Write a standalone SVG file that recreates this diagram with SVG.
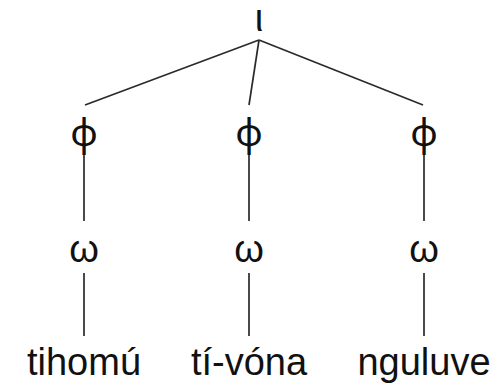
<svg xmlns="http://www.w3.org/2000/svg" width="497" height="385" viewBox="0 0 497 385">
  <style>
    .lbl { font-family: "Liberation Sans", Arial, sans-serif; font-size: 38px; fill: #111; text-anchor: middle; }
    .phi { font-family: "Noto Sans", sans-serif; font-size: 38px; }
    .edge { stroke: #2a2a2a; stroke-width: 1.7; fill: none; stroke-linecap: butt; }
  </style>
  <rect width="497" height="385" fill="#fff"/>
  <g id="connectors">
    <line class="edge" x1="259" y1="40" x2="85" y2="105"/>
    <line class="edge" x1="259" y1="40" x2="249" y2="105"/>
    <line class="edge" x1="259" y1="40" x2="423" y2="105"/>
    <line class="edge" x1="84" y1="155" x2="84" y2="221"/>
    <line class="edge" x1="249" y1="155" x2="249" y2="221"/>
    <line class="edge" x1="424" y1="155" x2="424" y2="221"/>
    <line class="edge" x1="84" y1="273" x2="84" y2="336"/>
    <line class="edge" x1="249" y1="273" x2="249" y2="336"/>
    <line class="edge" x1="424" y1="273" x2="424" y2="336"/>
  </g>
  <g id="iota"><text class="lbl" x="259" y="31">ι</text></g>
  <g id="phi1"><text class="lbl phi" x="84" y="146">φ</text></g>
  <g id="phi2"><text class="lbl phi" x="249" y="146">φ</text></g>
  <g id="phi3"><text class="lbl phi" x="424" y="146">φ</text></g>
  <g id="omega1"><text class="lbl" x="84" y="262">ω</text></g>
  <g id="omega2"><text class="lbl" x="249" y="262">ω</text></g>
  <g id="omega3"><text class="lbl" x="424" y="262">ω</text></g>
  <g id="word1"><text class="lbl" x="84" y="375">tihomú</text></g>
  <g id="word2"><text class="lbl" x="249" y="375">tí-vóna</text></g>
  <g id="word3"><text class="lbl" x="424" y="375">nguluve</text></g>
</svg>
